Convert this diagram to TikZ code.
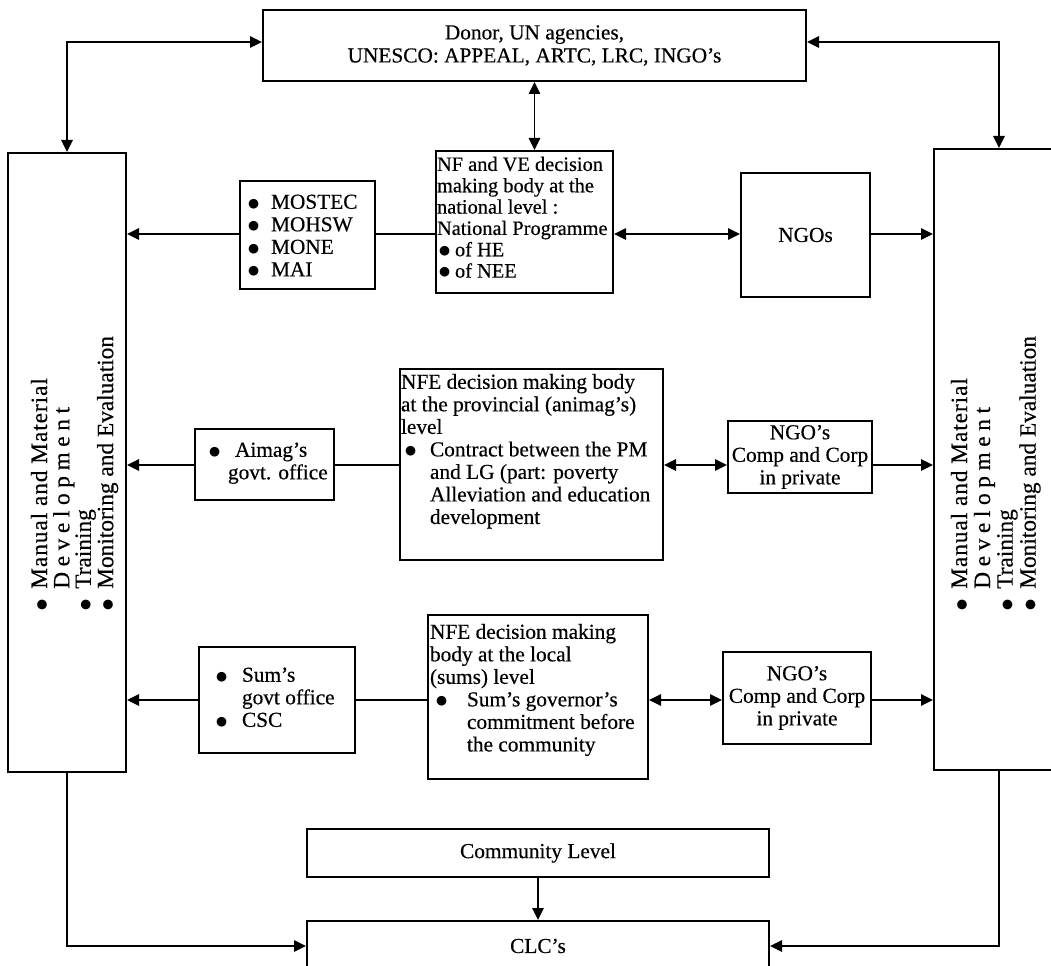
\documentclass[tikz,border=0pt]{standalone}
\usepackage{fontspec}
\setmainfont[FakeBold=0.4]{Liberation Serif}
\newfontfamily\dotfont{DejaVu Sans}
\usetikzlibrary{arrows.meta}

% one drawing unit is one pixel of the layout grid
\newdimen\pxu \pxu=0.75pt
\newcommand\pxs{0.75pt}
% fixed-size text block: width, height, top gap, rows
\newcommand\boxtext[4]{\begin{minipage}[c][#2\pxu][t]{#1\pxu}\vspace*{#3\pxu}\noindent
  \begin{tabular}[t]{@{}l@{}}#4\end{tabular}\end{minipage}}
% list bullet in a box of the given width
\newcommand\bul[1]{\makebox[#1\pxu][l]{\raisebox{1.3pt}{\dotfont\fontsize{9.5}{9.5}\selectfont ●}}}
\newcommand\ind[1]{\hspace*{#1\pxu}}

\tikzset{
  bx/.style={draw, line width=1.5pt, inner sep=0pt, anchor=north west},
  cbx/.style={bx, align=center},
  conn/.style={line width=1.2pt},
  tip/.style={-{Triangle[length=9pt,width=8.5pt]}},
  dtip/.style={{Triangle[length=9pt,width=8.5pt]}-{Triangle[length=9pt,width=8.5pt]}},
  vlist/.style={rotate=90, anchor=base west, inner sep=0pt},
}

\begin{document}
\begin{tikzpicture}[x=0.75pt, y=-0.75pt, font=\fontsize{16}{16.9}\selectfont]
\useasboundingbox (0,0) rectangle (1051,966);
\clip (0,0) rectangle (1051,966);
\fill[white] (0,0) rectangle (1051,966);

% heights of the horizontal links
\coordinate (t1) at (0,42);
\coordinate (r1) at (0,234);
\coordinate (r2) at (0,465);
\coordinate (r3) at (0,700);

% top: donors
\node[cbx, minimum width={543*\pxs}, minimum height={71*\pxs}, font=\fontsize{16}{17.3}\selectfont]
  (donor) at (262,9) {Donor, UN agencies,\\UNESCO: APPEAL, ARTC, LRC, INGO's};

% side columns
\node[bx, minimum width={118*\pxs}, minimum height={619*\pxs}] (mlL) at (7,152) {};
\node[bx, minimum width={130*\pxs}, minimum height={621*\pxs}] (mlR) at (933,148) {};
\node[vlist, font=\fontsize{17.5}{15.3}\selectfont] (mlLtxt) at (47,611) {\begin{tabular}[t]{@{}l@{}}
  \bul{22}{\addfontfeature{LetterSpace=4}Manual and Material}\\
  \ind{22}{\addfontfeature{LetterSpace=24}Development}\\
  \bul{22}Training\\
  \bul{22}Monitoring and Evaluation\end{tabular}};
\node[vlist, font=\fontsize{17.5}{17}\selectfont] (mlRtxt) at (967,611) {\begin{tabular}[t]{@{}l@{}}
  \bul{22}{\addfontfeature{LetterSpace=4}Manual and Material}\\
  \ind{22}{\addfontfeature{LetterSpace=24}Development}\\
  \bul{22}Training\\
  \bul{22}Monitoring and Evaluation\end{tabular}};

% national level
\node[bx] (mostec) at (239,180) {\boxtext{135}{108}{12}{%
  \ind{8}\bul{23}MOSTEC\\ \ind{8}\bul{23}MOHSW\\ \ind{8}\bul{23}MONE\\ \ind{8}\bul{23}MAI}};
\node[bx, font=\fontsize{15.3}{16}\selectfont] (nf) at (435,150) {\boxtext{177}{142}{5}{%
  \ind{1}NF and VE decision\\ \ind{1}making body at the\\ \ind{1}national level :\\
  \ind{1}National Programme\\ \ind{3}\bul{16}of HE\\ \ind{3}\bul{16}of NEE}};
\node[cbx, minimum width={129*\pxs}, minimum height={124*\pxs}] (ngo1) at (740,172) {NGOs};

% provincial level
\node[bx] (aimag) at (194,428) {\boxtext{139}{71}{12}{%
  \ind{14}\bul{26}Aimag's\\ \ind{33}govt. office}};
\node[bx] (nfep) at (399,368) {\boxtext{263}{191}{4}{%
  \ind{1}NFE decision making body\\ \ind{1}at the provincial (animag's)\\ \ind{1}level\\
  \ind{5}\bul{25}Contract between the PM\\ \ind{30}and LG (part: poverty\\
  \ind{30}Alleviation and education\\ \ind{30}development}};
\node[cbx, minimum width={144*\pxs}, minimum height={72*\pxs}] (ngo2) at (727,420)
  {NGO's\\Comp and Corp\\in private};

% local level
\node[bx] (sums) at (198,646) {\boxtext{156}{106}{19}{%
  \ind{17}\bul{26}Sum's\\ \ind{43}govt office\\ \ind{17}\bul{26}CSC}};
\node[bx] (nfel) at (427,614) {\boxtext{220}{164}{8}{%
  \ind{2}NFE decision making\\ \ind{2}body at the local\\ \ind{2}(sums) level\\
  \ind{8}\bul{31}Sum's governor's\\ \ind{39}commitment before\\ \ind{39}the community}};
\node[cbx, minimum width={148*\pxs}, minimum height={92*\pxs}] (ngo3) at (722,651)
  {NGO's\\Comp and Corp\\in private};

% community
\node[cbx, minimum width={462*\pxs}, minimum height={48*\pxs}] (comm) at (306,828) {Community Level};
\node[cbx, minimum width={462*\pxs}, minimum height={50*\pxs}] (clc) at (306,920) {CLC's};

% links
\draw[conn,dtip] (donor.west |- t1) -| (mlL.north);
\draw[conn,dtip] (donor.east |- t1) -| (mlR.north);
\draw[conn,dtip] (donor.south) -- (donor.south |- nf.north);

\draw[conn,tip] (mostec.west |- r1) -- (mlL.east |- r1);
\draw[conn] (mostec.east |- r1) -- (nf.west |- r1);
\draw[conn,dtip] (nf.east |- r1) -- (ngo1.west |- r1);
\draw[conn,tip] (ngo1.east |- r1) -- (mlR.west |- r1);

\draw[conn,tip] (aimag.west |- r2) -- (mlL.east |- r2);
\draw[conn] (aimag.east |- r2) -- (nfep.west |- r2);
\draw[conn,dtip] (nfep.east |- r2) -- (ngo2.west |- r2);
\draw[conn,tip] (ngo2.east |- r2) -- (mlR.west |- r2);

\draw[conn,tip] (sums.west |- r3) -- (mlL.east |- r3);
\draw[conn] (sums.east |- r3) -- (nfel.west |- r3);
\draw[conn,dtip] (nfel.east |- r3) -- (ngo3.west |- r3);
\draw[conn,tip] (ngo3.east |- r3) -- (mlR.west |- r3);

\draw[conn,tip] (comm.south) -- (clc.north);
\draw[conn,tip] (mlL.south) |- (clc.west);
\draw[conn,tip] (mlR.south) |- (clc.east);
\end{tikzpicture}
\end{document}
